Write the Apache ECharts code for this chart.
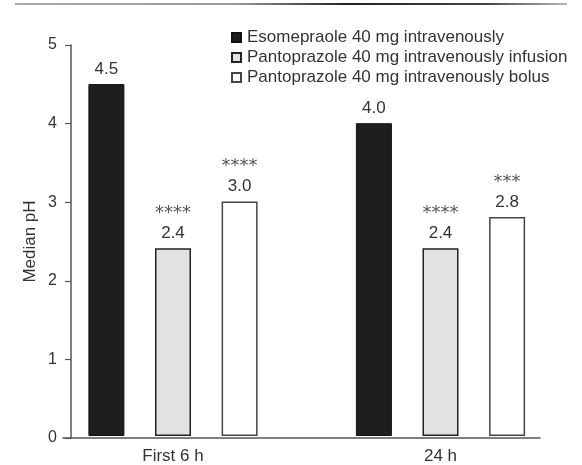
<!DOCTYPE html>
<html>
<head>
<meta charset="utf-8">
<script src="https://cdn.jsdelivr.net/npm/echarts@6/dist/echarts.min.js"></script>
<style>
  html, body { margin: 0; padding: 0; background: #fff; }
  #chart { width: 582px; height: 465px; }
</style>
</head>
<body>
<div id="chart"></div>
<script>
// ---- data ----
const categories = ['First 6 h', '24 h'];
const seriesNames = [
  'Esomepraole 40 mg intravenously',
  'Pantoprazole 40 mg intravenously infusion',
  'Pantoprazole 40 mg intravenously bolus'
];
const esomeprazoleIV = [4.5, 4.0];
const pantoInfusion = [2.4, 2.4];
const pantoBolus = [3.0, 2.8];
const significance = [
  ['', ''],
  ['****', '****'],
  ['****', '***']
];
const yTicks = [0, 1, 2, 3, 4, 5];

const FONT = 'Liberation Sans, Arial, sans-serif';
const TXT = '#333';

const chart = echarts.init(document.getElementById('chart'), null, { renderer: 'canvas' });

const styles = [
  { color: '#1e1e1e', borderColor: '#111', borderWidth: 1 },
  { color: '#e2e2e2', borderColor: '#222', borderWidth: 1.5 },
  { color: '#ffffff', borderColor: '#444', borderWidth: 1.5 }
];
const values = [esomeprazoleIV, pantoInfusion, pantoBolus];

function labelFmt(p) {
  const s = significance[p.seriesIndex][p.dataIndex];
  const v = '{v|' + Number(p.value).toFixed(1) + '}';
  return s ? '{s|' + s + '}\n' + v : v;
}

const series = values.map((vals, i) => ({
  name: seriesNames[i],
  type: 'bar',
  xAxisIndex: 1,
  yAxisIndex: 1,
  data: vals,
  barWidth: 36,
  barGap: '85%',
  itemStyle: styles[i],
  label: {
    show: true,
    position: 'top',
    distance: 6,
    formatter: labelFmt,
    rich: {
      s: { fontFamily: 'DejaVu Sans', fontSize: 18, color: '#555', lineHeight: 22, align: 'center' },
      v: { fontFamily: FONT, fontSize: 17, color: TXT, lineHeight: 18, align: 'center' }
    }
  }
}));

chart.setOption({
  animation: false,
  backgroundColor: '#fff',
  graphic: [{
    type: 'line',
    shape: { x1: 15, y1: 4, x2: 567, y2: 4 },
    style: {
      lineWidth: 2,
      stroke: new echarts.graphic.LinearGradient(0, 0, 1, 0, [
        { offset: 0, color: '#aaa' },
        { offset: 0.4, color: '#999' },
        { offset: 0.6, color: '#222' },
        { offset: 0.85, color: '#444' },
        { offset: 1, color: '#bbb' }
      ])
    }
  }],
  legend: {
    orient: 'vertical',
    left: 226,
    top: 23,
    itemWidth: 9,
    itemHeight: 9,
    itemGap: 1,
    icon: 'rect',
    data: seriesNames,
    textStyle: { fontFamily: FONT, fontSize: 17, color: TXT, lineHeight: 19, padding: [0, 0, 0, 1] }
  },
  grid: [
    { left: 63, right: 42, top: 45, bottom: 27 },
    { left: 173, right: 141.5, top: 45, bottom: 27 }
  ],
  xAxis: [
    {
      gridIndex: 0, type: 'value', min: 0, max: 1,
      axisLine: { show: true, lineStyle: { color: '#555', width: 1.5 } },
      axisTick: { show: false }, axisLabel: { show: false }, splitLine: { show: false }
    },
    {
      gridIndex: 1, type: 'category', data: categories, boundaryGap: false,
      axisLine: { show: false }, axisTick: { show: false },
      axisLabel: { fontFamily: FONT, fontSize: 17, color: TXT, margin: 12 }
    }
  ],
  yAxis: [
    {
      gridIndex: 0, type: 'value', min: yTicks[0], max: yTicks[yTicks.length - 1], interval: 1,
      offset: -8,
      name: 'Median pH', nameLocation: 'middle', nameGap: 32, nameRotate: 90,
      nameMoveOverlap: false,
      nameTextStyle: { fontFamily: FONT, fontSize: 17, color: TXT },
      axisLine: { show: true, lineStyle: { color: '#555', width: 1.5 } },
      axisTick: { show: true, length: 6, lineStyle: { color: '#555', width: 1.2 } },
      axisLabel: { fontFamily: FONT, fontSize: 16, color: TXT, margin: 14 },
      splitLine: { show: false }
    },
    {
      gridIndex: 1, type: 'value', min: 0, max: 5, show: false
    }
  ],
  series: series
});
</script>
</body>
</html>
